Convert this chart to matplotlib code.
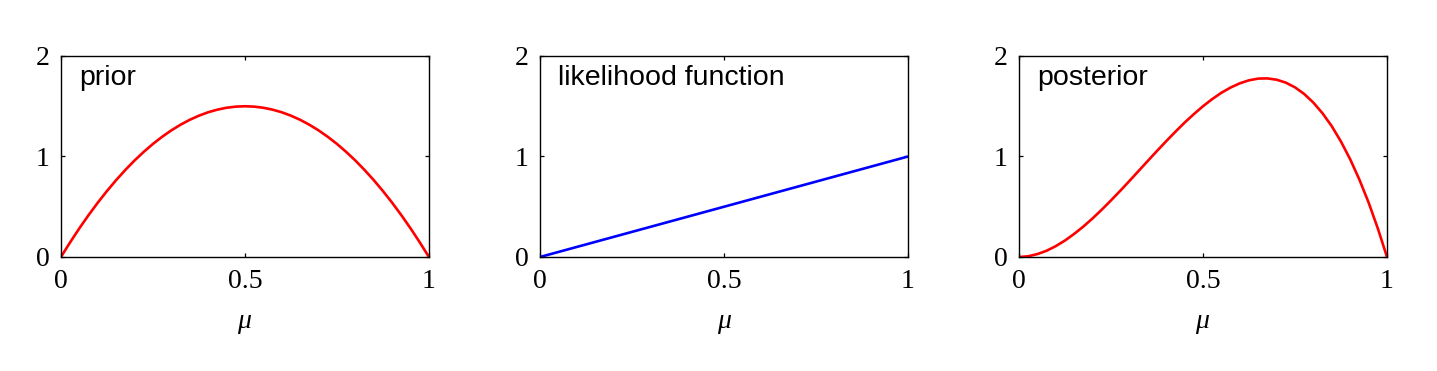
#!/usr/bin/env python3
"""Prior, likelihood and posterior over mu, three panels side by side."""

import matplotlib
matplotlib.use("Agg")
import matplotlib.pyplot as plt

# values
mu_grid = [0.0, 0.025, 0.05, 0.075, 0.1, 0.125, 0.15, 0.175, 0.2, 0.225,
           0.25, 0.275, 0.3, 0.325, 0.35, 0.375, 0.4, 0.425, 0.45, 0.475,
           0.5, 0.525, 0.55, 0.575, 0.6, 0.625, 0.65, 0.675, 0.7, 0.725,
           0.75, 0.775, 0.8, 0.825, 0.85, 0.875, 0.9, 0.925, 0.95, 0.975, 1.0]

prior = [0.0, 0.146, 0.285, 0.416, 0.54, 0.656, 0.765, 0.866, 0.96, 1.046,
         1.125, 1.196, 1.26, 1.316, 1.365, 1.406, 1.44, 1.466, 1.485, 1.496,
         1.5, 1.496, 1.485, 1.466, 1.44, 1.406, 1.365, 1.316, 1.26, 1.196,
         1.125, 1.046, 0.96, 0.866, 0.765, 0.656, 0.54, 0.416, 0.285, 0.146, 0.0]

posterior = [0.0, 0.007, 0.029, 0.062, 0.108, 0.164, 0.23, 0.303, 0.384, 0.471,
             0.563, 0.658, 0.756, 0.856, 0.956, 1.055, 1.152, 1.246, 1.337, 1.421,
             1.5, 1.571, 1.634, 1.686, 1.728, 1.758, 1.775, 1.777, 1.764, 1.735,
             1.688, 1.622, 1.536, 1.429, 1.301, 1.148, 0.972, 0.77, 0.542, 0.285, 0.0]

lik_mu = [0.0, 0.5, 1.0]
likelihood = [0.0, 0.5, 1.0]

panels = [
    ("prior", mu_grid, prior, "#ff0000"),
    ("likelihood function", lik_mu, likelihood, "#0000ff"),
    ("posterior", mu_grid, posterior, "#ff0000"),
]

x_ticks = [0, 0.5, 1]
x_ticklabels = ["0", "0.5", "1"]
y_ticks = [0, 1, 2]
y_ticklabels = ["0", "1", "2"]

serif = "Liberation Serif"
sans = "Liberation Sans"

plt.rcParams["mathtext.fontset"] = "custom"
plt.rcParams["mathtext.it"] = "Liberation Serif:italic"
plt.rcParams["mathtext.rm"] = "Liberation Serif"

fig = plt.figure(figsize=(14.37, 3.71), dpi=100)
lefts = [0.0424, 0.3758, 0.7091]

for left, (title, xs, ys, color) in zip(lefts, panels):
    ax = fig.add_axes([left, 0.3073, 0.2561, 0.5418])
    ax.plot(xs, ys, color=color, linewidth=1.9, solid_capstyle="butt")
    ax.set_xlim(0, 1)
    ax.set_ylim(0, 2)
    ax.set_xticks(x_ticks)
    ax.set_xticklabels(x_ticklabels, fontfamily=serif, fontsize=20)
    ax.set_yticks(y_ticks)
    ax.set_yticklabels(y_ticklabels, fontfamily=serif, fontsize=20)
    ax.tick_params(direction="in", length=3, width=0.9, top=True, right=True)
    ax.tick_params(axis="x", pad=9)
    ax.tick_params(axis="y", pad=8)
    for spine in ax.spines.values():
        spine.set_linewidth(1.0)
    ax.set_xlabel(r"$\mu$", fontsize=20, labelpad=10)
    ax.text(0.05, 0.855, title, transform=ax.transAxes, fontfamily=sans,
            fontsize=20.5, ha="left", va="baseline")

fig.savefig("out.png", dpi=100)
